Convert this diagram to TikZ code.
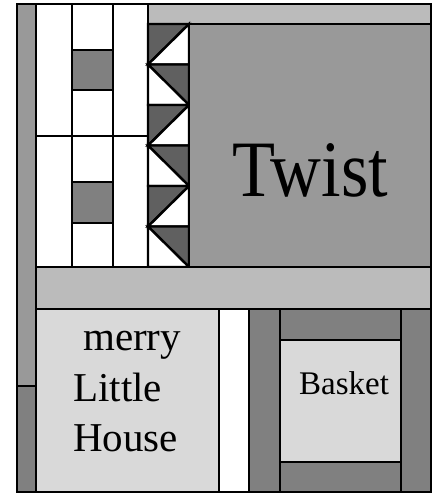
\documentclass[tikz,border=0pt]{standalone}
\usepackage{fontspec}
\setmainfont{Liberation Serif}
\definecolor{gA}{HTML}{999999}
\definecolor{gL}{HTML}{BBBBBB}
\definecolor{gVL}{HTML}{D9D9D9}
\definecolor{gM}{HTML}{808080}
\definecolor{gD}{HTML}{606060}
\begin{document}
\begin{tikzpicture}[x=1pt,y=-1pt,
  patch/.style={draw=black, line width=2.4pt, line join=miter},
  lbl/.style={inner sep=0pt, text=black}]
\useasboundingbox (0,0) rectangle (432,494);
\fill[white] (0,0) rectangle (432,494);
% left strip
\filldraw[patch,fill=gA] (17,4) rectangle (36,386);
\filldraw[patch,fill=gM] (17,386) rectangle (36,492);
% column 1
\filldraw[patch,fill=white] (36,4) rectangle (72,136);
\filldraw[patch,fill=white] (36,136) rectangle (72,267);
% column 2
\filldraw[patch,fill=white] (72,4) rectangle (113,50);
\filldraw[patch,fill=gM] (72,50) rectangle (113,90);
\filldraw[patch,fill=white] (72,90) rectangle (113,136);
\filldraw[patch,fill=white] (72,136) rectangle (113,182);
\filldraw[patch,fill=gM] (72,182) rectangle (113,223);
\filldraw[patch,fill=white] (72,223) rectangle (113,267);
% column 3
\filldraw[patch,fill=white] (113,4) rectangle (148,136);
\filldraw[patch,fill=white] (113,136) rectangle (148,267);
% top strip
\filldraw[patch,fill=gL] (148,4) rectangle (431,24);
% triangles
\foreach \i in {0,...,5}{
  \pgfmathsetmacro{\ya}{24+40.5*\i}
  \pgfmathsetmacro{\yb}{24+40.5*(\i+1)}
  \ifodd\i
    \filldraw[patch,fill=gD] (148,\ya) -- (189,\ya) -- (189,\yb) -- cycle;
    \filldraw[patch,fill=white] (148,\ya) -- (189,\yb) -- (148,\yb) -- cycle;
  \else
    \filldraw[patch,fill=gD] (148,\ya) -- (189,\ya) -- (148,\yb) -- cycle;
    \filldraw[patch,fill=white] (189,\ya) -- (189,\yb) -- (148,\yb) -- cycle;
  \fi
}
% twist block
\filldraw[patch,fill=gA] (189,24) rectangle (431,267);
% sash
\filldraw[patch,fill=gL] (36,267) rectangle (431,309);
% house
\filldraw[patch,fill=gVL] (36,309) rectangle (219,492);
\filldraw[patch,fill=white] (219,309) rectangle (249,492);
% basket
\filldraw[patch,fill=gM] (249,309) rectangle (280,492);
\filldraw[patch,fill=gM] (401,309) rectangle (431,492);
\filldraw[patch,fill=gM] (280,309) rectangle (401,340);
\filldraw[patch,fill=gM] (280,462) rectangle (401,492);
\filldraw[patch,fill=gVL] (280,340) rectangle (401,462);
% outer frame
\draw[patch] (17,4) rectangle (431,492);
% labels
\node[lbl,anchor=base] (twist) at (310.5,196) {\fontsize{80}{96}\selectfont\scalebox{0.88}[1]{Twist}};
\node[lbl,anchor=base west] (merry) at (83,350) {\fontsize{41}{49}\selectfont merry};
\node[lbl,anchor=base west] (little) at (73,401) {\fontsize{41}{49}\selectfont Little};
\node[lbl,anchor=base west] (house) at (73,451) {\fontsize{41}{49}\selectfont House};
\node[lbl,anchor=base] (basket) at (344,394) {\fontsize{33}{40}\selectfont Basket};
\end{tikzpicture}
\end{document}
